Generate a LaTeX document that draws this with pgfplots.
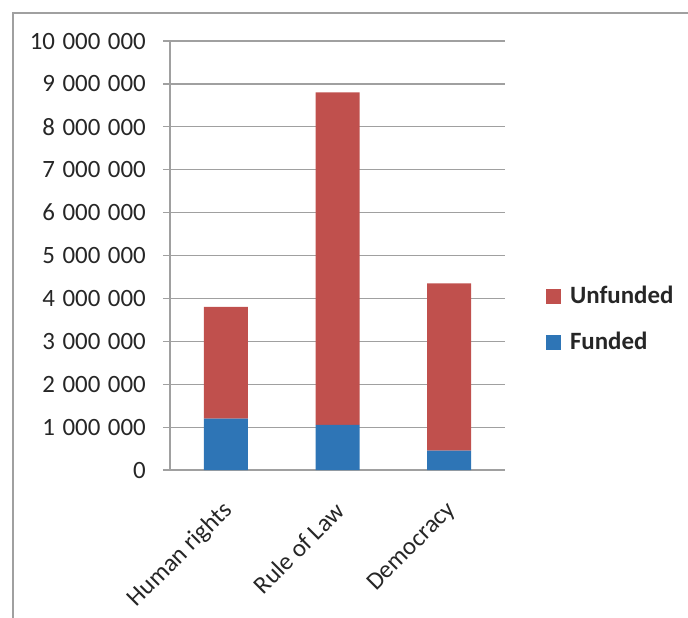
\documentclass[border=0pt]{standalone}
\usepackage{fontspec}
\setmainfont{Carlito}
\usepackage{pgfplots}
\pgfplotsset{compat=1.18}
\definecolor{fundblue}{HTML}{2E75B6}
\definecolor{unfred}{HTML}{C0504D}
\definecolor{axgray}{HTML}{A0A0A0}
\definecolor{txt}{HTML}{262626}
\begin{document}
\fontsize{25}{29}\selectfont
\begin{tikzpicture}
\useasboundingbox (0,0) rectangle (688bp,-618bp);
\draw[axgray, line width=1.5bp] (13bp,-625bp) -- (13bp,-13bp) -- (695bp,-13bp);
\begin{axis}[
  at={(170bp,-470bp)}, anchor=south west,
  scale only axis, width=335bp, height=429bp,
  ybar stacked, bar width=44bp,
  xmin=-0.5, xmax=2.5, ymin=0, ymax=10000000,
  axis lines*=left,
  axis line style={axgray, line width=1.2bp, -},
  major tick length=7bp,
  xtick={0,1,2},
  xticklabels={Human rights, Rule of Law, Democracy},
  x tick style={draw=none},
  extra x ticks={-0.5,0.5,1.5,2.5},
  extra x tick labels={},
  extra x tick style={tick style={draw=axgray, line width=1.2bp}, grid=none},
  ytick={0,1000000,...,10000000},
  y tick style={axgray, line width=1.2bp},
  tick align=outside,
  ymajorgrids, grid style={axgray, line width=1.2bp},
  scaled y ticks=false,
  yticklabel style={text=txt, inner sep=0pt, xshift=-17bp,
    /pgf/number format/.cd, fixed, 1000 sep={\hspace{0.3em}}, assume math mode=true},
  xticklabel style={text=txt, rotate=45, anchor=east, inner sep=0pt, yshift=-23bp, xshift=-19bp},
  reverse legend,
  legend cell align=left,
  legend image code/.code={\fill[#1] (0bp,-7.5bp) rectangle (15bp,7.5bp); \path (22bp,0bp);},
  legend style={at={(1.122,0.35)}, anchor=west, draw=none, fill=none,
    font=\bfseries\fontsize{25}{29}\selectfont, text=txt, row sep=21bp,
    inner sep=0pt},
]
\addplot[fill=fundblue, draw=none] coordinates {(0,1200000) (1,1050000) (2,450000)};
\addplot[fill=unfred, draw=none] coordinates {(0,2600000) (1,7750000) (2,3900000)};
\legend{Funded, Unfunded}
\end{axis}
\end{tikzpicture}
\end{document}
